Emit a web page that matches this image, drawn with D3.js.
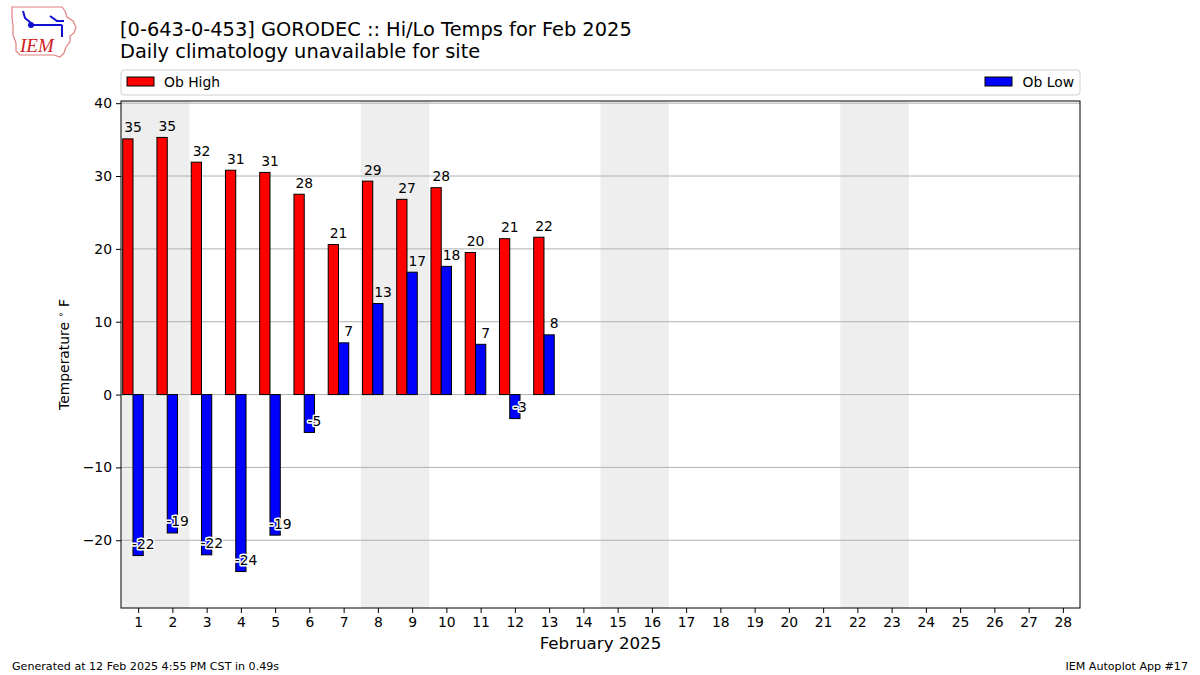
<!DOCTYPE html>
<html>
<head>
<meta charset="utf-8">
<script src="https://cdn.jsdelivr.net/npm/d3@7"></script>
<style>
  body { margin: 0; background: #fff; }
  svg { font-family: "DejaVu Sans", sans-serif; }
</style>
</head>
<body>
<svg id="chart" width="1200" height="675"></svg>
<script>
// observed values, Feb 2025 (days 1..13 reported)
const days = d3.range(1, 29);
const obDays = d3.range(1, 14);
const obHigh = [35.1, 35.3, 31.9, 30.8, 30.5, 27.5, 20.6, 29.3, 26.8, 28.4, 19.5, 21.4, 21.6];
const obLow = [-22.1, -19.0, -22.0, -24.3, -19.3, -5.2, 7.1, 12.5, 16.8, 17.6, 6.9, -3.3, 8.2];
const weekends = [[1, 2], [8, 9], [15, 16], [22, 23]];
const yTicks = [-20, -10, 0, 10, 20, 30, 40];

const margin = { left: 121, right: 120, top: 101, bottom: 67 };
const width = 1200, height = 675;

const svg = d3.select('#chart');

const x = d3.scaleLinear()
  .domain([0.5, 28.5])
  .range([margin.left, width - margin.right]);
const y = d3.scaleLinear()
  .domain([-29.3, 40.3])
  .range([height - margin.bottom, margin.top]);

const x0 = x.range()[0], x1 = x.range()[1];
const yTop = y.range()[1], yBot = y.range()[0];

// weekend shading
svg.append('g').selectAll('rect')
  .data(weekends)
  .enter()
  .append('rect')
  .attr('x', d => x(d[0] - 0.5))
  .attr('width', d => x(d[1] + 0.5) - x(d[0] - 0.5))
  .attr('y', yTop)
  .attr('height', yBot - yTop)
  .attr('fill', '#eeeeee');

// grid
svg.append('g').selectAll('line')
  .data(yTicks)
  .enter()
  .append('line')
  .attr('x1', x0).attr('x2', x1)
  .attr('y1', d => y(d)).attr('y2', d => y(d))
  .attr('stroke', '#b0b0b0')
  .attr('stroke-width', 1);

// bars
const bars = svg.append('g');
bars.selectAll('rect.high')
  .data(obDays)
  .enter()
  .append('rect')
  .attr('class', 'high')
  .attr('x', d => x(d - 0.45))
  .attr('width', x(0.3) - x(0))
  .attr('y', (d, i) => y(Math.max(0, obHigh[i])))
  .attr('height', (d, i) => Math.abs(y(obHigh[i]) - y(0)))
  .attr('fill', '#ff0000')
  .attr('stroke', '#000')
  .attr('stroke-width', 1);

bars.selectAll('rect.low')
  .data(obDays)
  .enter()
  .append('rect')
  .attr('class', 'low')
  .attr('x', d => x(d - 0.15))
  .attr('width', x(0.3) - x(0))
  .attr('y', (d, i) => y(Math.max(0, obLow[i])))
  .attr('height', (d, i) => Math.abs(y(obLow[i]) - y(0)))
  .attr('fill', '#0000ff')
  .attr('stroke', '#000')
  .attr('stroke-width', 1);

// value labels
const labels = svg.append('g')
  .attr('font-size', '13.9px')
  .attr('text-anchor', 'middle');
labels.selectAll('text.high')
  .data(obDays)
  .enter()
  .append('text')
  .attr('x', d => x(d - 0.15))
  .attr('y', (d, i) => y(obHigh[i]) - 6.5)
  .text((d, i) => Math.round(obHigh[i]));

labels.selectAll('text.low')
  .data(obDays)
  .enter()
  .append('text')
  .attr('x', d => x(d + 0.15))
  .attr('y', (d, i) => y(obLow[i]) - 6.5)
  .attr('stroke', (d, i) => obLow[i] < 0 ? '#fff' : 'none')
  .attr('stroke-width', 3)
  .attr('stroke-linejoin', 'round')
  .attr('paint-order', 'stroke')
  .text((d, i) => Math.round(obLow[i]));

// frame
svg.append('rect')
  .attr('x', x0).attr('y', yTop)
  .attr('width', x1 - x0).attr('height', yBot - yTop)
  .attr('fill', 'none').attr('stroke', '#000').attr('stroke-width', 1);

// axes
const yAxis = svg.append('g')
  .attr('transform', 'translate(' + x0 + ',0)')
  .call(d3.axisLeft(y).tickValues(yTicks).tickSize(5).tickPadding(4)
    .tickFormat(d => String(d).replace('-', '\u2212')));
const xAxis = svg.append('g')
  .attr('transform', 'translate(0,' + yBot + ')')
  .call(d3.axisBottom(x).tickValues(days).tickSize(5).tickPadding(4)
    .tickFormat(d3.format('d')));
[yAxis, xAxis].forEach(a => {
  a.select('.domain').remove();
  a.selectAll('text').attr('font-size', '13.9px').attr('fill', '#000')
    .attr('font-family', '"DejaVu Sans", sans-serif');
  a.selectAll('line').attr('stroke', '#000');
});

svg.append('text')
  .attr('x', (x0 + x1) / 2).attr('y', 649)
  .attr('text-anchor', 'middle')
  .attr('font-size', '16.7px')
  .text('February 2025');

const ylab = svg.append('text')
  .attr('transform', 'translate(69,' + ((yTop + yBot) / 2) + ') rotate(-90)')
  .attr('text-anchor', 'middle')
  .attr('font-size', '13.9px');
ylab.append('tspan').text('Temperature ');
ylab.append('tspan').attr('dy', -5).attr('font-size', '9.7px').text('\u2218');
ylab.append('tspan').attr('dy', 5).text(' F');

// legend
const legend = svg.append('g');
legend.append('rect')
  .attr('x', x0).attr('y', 70).attr('width', x1 - x0).attr('height', 25)
  .attr('rx', 3)
  .attr('fill', '#fff').attr('stroke', '#d0d0d0');
legend.append('rect')
  .attr('x', 127).attr('y', 77).attr('width', 27).attr('height', 9)
  .attr('fill', '#ff0000').attr('stroke', '#000');
legend.append('text')
  .attr('x', 164).attr('y', 86.5).attr('font-size', '13.9px')
  .text('Ob High');
legend.append('rect')
  .attr('x', 985).attr('y', 77).attr('width', 27).attr('height', 9)
  .attr('fill', '#0000ff').attr('stroke', '#000');
legend.append('text')
  .attr('x', 1074).attr('y', 86.5).attr('font-size', '13.9px')
  .attr('text-anchor', 'end')
  .text('Ob Low');

// title
svg.append('text')
  .attr('x', 120).attr('y', 36).attr('font-size', '19.4px')
  .text('[0-643-0-453] GORODEC :: Hi/Lo Temps for Feb 2025');
svg.append('text')
  .attr('x', 120).attr('y', 58).attr('font-size', '19.4px')
  .text('Daily climatology unavailable for site');

// footer
svg.append('text')
  .attr('x', 12).attr('y', 670).attr('font-size', '11.1px')
  .text('Generated at 12 Feb 2025 4:55 PM CST in 0.49s');
svg.append('text')
  .attr('x', 1188).attr('y', 670).attr('font-size', '11.1px')
  .attr('text-anchor', 'end')
  .text('IEM Autoplot App #17');

// logo (rough)
const logo = svg.append('g').attr('transform', 'translate(10,5)');
logo.append('path')
  .attr('d', 'M2,2 L52,2 L55,6 L57,12 L63,16 L66,22 L64,28 L60,31 L60,37 L56,42 L54,48 L50,52 L44,50 L10,50 L6,46 L6,38 L3,30 L3,20 L2,12 Z')
  .attr('fill', 'none').attr('stroke', '#e08080').attr('stroke-width', 1.2);
logo.append('path')
  .attr('d', 'M21,20 L52,20 M52,20 L52,32 M40,11 L47,16 L54,16 M13,6 L15,13 L21,18')
  .attr('fill', 'none').attr('stroke', '#1010d0').attr('stroke-width', 2);
logo.append('circle').attr('cx', 21).attr('cy', 20).attr('r', 3).attr('fill', '#1010d0');
logo.append('text')
  .attr('x', 10).attr('y', 47)
  .attr('font-family', '"Liberation Serif", serif')
  .attr('font-style', 'italic')
  .attr('font-size', '19px')
  .attr('fill', '#d02020')
  .text('IEM');
</script>
</body>
</html>
